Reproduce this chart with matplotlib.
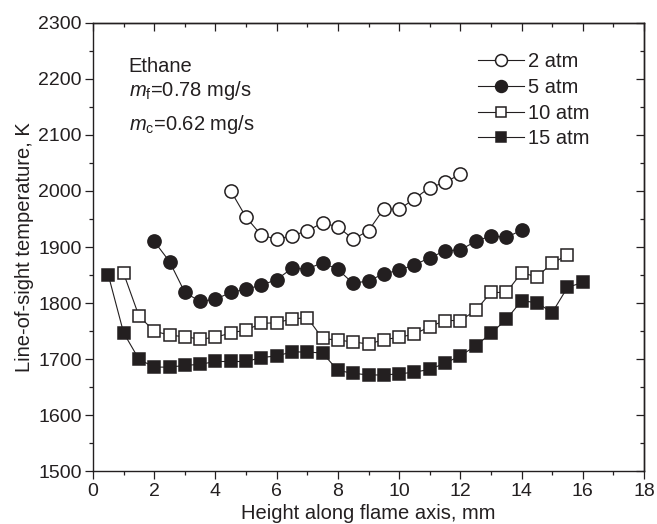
import matplotlib
matplotlib.use("Agg")
import matplotlib.pyplot as plt
import numpy as np
from matplotlib.ticker import MultipleLocator

plt.rcParams['font.family'] = ['Liberation Sans', 'DejaVu Sans']
plt.rcParams['mathtext.fontset'] = 'custom'
plt.rcParams['mathtext.rm'] = 'Liberation Sans'
plt.rcParams['mathtext.it'] = 'Liberation Sans:italic'

INK = '#231f20'
FS_TICK = 14
FS_TEXT = 14.5

# Line-of-sight temperature (K) versus height above burner (mm)
h_2atm = np.arange(4.5, 12.01, 0.5)
t_2atm = [2000, 1953, 1921, 1914, 1920, 1929, 1943, 1936, 1914, 1929,
          1968, 1967, 1986, 2006, 2015, 2030]

h_5atm = np.arange(2.0, 14.01, 0.5)
t_5atm = [1910, 1874, 1819, 1803, 1807, 1819, 1825, 1832, 1842, 1862,
          1861, 1872, 1860, 1835, 1840, 1852, 1859, 1868, 1881, 1893,
          1895, 1910, 1920, 1917, 1930]

h_10atm = np.arange(1.0, 15.51, 0.5)
t_10atm = [1853, 1777, 1750, 1743, 1740, 1736, 1739, 1747, 1752, 1764,
           1765, 1772, 1774, 1737, 1734, 1731, 1727, 1735, 1739, 1745,
           1758, 1769, 1769, 1787, 1819, 1819, 1854, 1847, 1871, 1886]

h_15atm = np.arange(0.5, 16.01, 0.5)
t_15atm = [1850, 1747, 1700, 1686, 1686, 1689, 1691, 1696, 1696, 1696,
           1703, 1706, 1713, 1713, 1711, 1680, 1675, 1672, 1672, 1674,
           1677, 1682, 1693, 1706, 1724, 1746, 1771, 1804, 1801, 1783,
           1828, 1837]

labels = ['2 atm', '5 atm', '10 atm', '15 atm']

fig = plt.figure(figsize=(6.57, 5.24), dpi=100)
ax = fig.add_axes([0.1416, 0.1002, 0.8386, 0.8568])

line_kw = dict(color=INK, lw=0.8, mec=INK, mew=1.1)
ax.plot(h_2atm, t_2atm, marker='o', ms=9.5, mfc='white', label=labels[0], **line_kw)
ax.plot(h_5atm, t_5atm, marker='o', ms=9.5, mfc=INK, label=labels[1], **line_kw)
ax.plot(h_10atm, t_10atm, marker='s', ms=8.3, mfc='white', label=labels[2], **line_kw)
ax.plot(h_15atm, t_15atm, marker='s', ms=8.3, mfc=INK, label=labels[3], **line_kw)

ax.set_xlim(0, 18)
ax.set_ylim(1500, 2300)
ax.xaxis.set_major_locator(MultipleLocator(2))
ax.xaxis.set_minor_locator(MultipleLocator(1))
ax.yaxis.set_major_locator(MultipleLocator(100))
ax.yaxis.set_minor_locator(MultipleLocator(50))

for s in ax.spines.values():
    s.set_color(INK)
    s.set_linewidth(1.0)

ax.tick_params(which='major', direction='out', length=5.8, width=0.9,
               colors=INK, labelsize=FS_TICK, pad=2.5)
ax.tick_params(which='minor', direction='out', length=3, width=0.9, colors=INK)

# mirrored axes along top and right with inward ticks
top = ax.secondary_xaxis('top')
top.xaxis.set_major_locator(MultipleLocator(2))
top.xaxis.set_minor_locator(MultipleLocator(1))
top.tick_params(which='major', direction='in', length=5.5, width=0.9,
                colors=INK, labeltop=False)
top.tick_params(which='minor', direction='in', length=3, width=0.9, colors=INK)
top.spines['top'].set_linewidth(1.0)
top.spines['top'].set_color(INK)

right = ax.secondary_yaxis('right')
right.yaxis.set_major_locator(MultipleLocator(100))
right.yaxis.set_minor_locator(MultipleLocator(50))
right.tick_params(which='major', direction='in', length=5.5, width=0.9,
                  colors=INK, labelright=False)
right.tick_params(which='minor', direction='in', length=3, width=0.9, colors=INK)
right.spines['right'].set_linewidth(1.0)
right.spines['right'].set_color(INK)

ax.set_xlabel('Height along flame axis, mm', fontsize=FS_TEXT, color=INK, labelpad=3)
ax.set_ylabel('Line-of-sight temperature, K', fontsize=FS_TEXT, color=INK, labelpad=3)

ax.text(0.065, 0.890, 'Ethane', transform=ax.transAxes, fontsize=FS_TEXT,
        color=INK, va='baseline', ha='left')
ax.text(0.065, 0.836, r'$m_{\mathrm{f}}$=0.78 mg/s', transform=ax.transAxes,
        fontsize=FS_TEXT, color=INK, va='baseline', ha='left')
ax.text(0.065, 0.760, r'$m_{\mathrm{c}}$=0.62 mg/s', transform=ax.transAxes,
        fontsize=FS_TEXT, color=INK, va='baseline', ha='left')

leg = ax.legend(loc='upper left', bbox_to_anchor=(0.699, 0.9335),
                frameon=False, fontsize=FS_TEXT, handlelength=2.28,
                handletextpad=0.2, labelspacing=0.33, borderpad=0,
                borderaxespad=0, markerscale=0.9)
for t in leg.get_texts():
    t.set_color(INK)

fig.savefig('out.png', dpi=100)
